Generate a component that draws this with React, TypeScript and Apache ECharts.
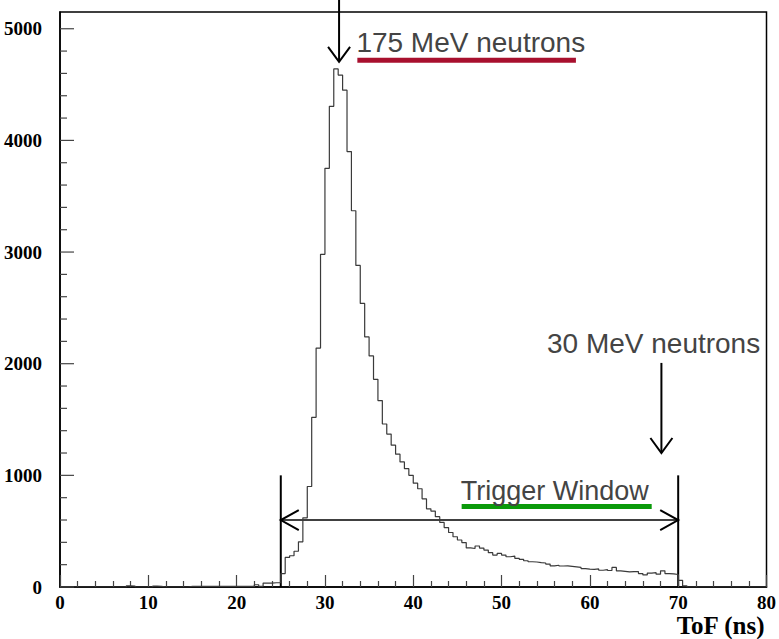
import React, { useEffect, useRef } from 'react';
import * as echarts from 'echarts';

// Histogram: ToF bins of 0.5 ns from 0 to 80 ns (160 bins)
const binStart = 0;
const binWidth = 0.5;
const counts = [
  0, 0, 0, 0, 0, 0, 0, 0, 0, 0,
  0, 0, 0, 0, 0, 10, 8, 0, 0, 0,
  0, 8, 5, 0, 0, 0, 0, 0, 0, 5,
  5, 5, 5, 5, 5, 5, 5, 5, 5, 5,
  5, 5, 5, 5, 20, 6, 35, 35, 38, 38,
  120, 265, 280, 320, 405, 620, 900, 1520, 2140, 2980,
  3750, 4305, 4640, 4585, 4450, 3900, 3370, 2880, 2540, 2240,
  2070, 1860, 1670, 1460, 1370, 1270, 1190, 1120, 1060, 1000,
  930, 880, 790, 700, 680, 630, 578, 532, 488, 450,
  421, 398, 350, 345, 367, 349, 331, 307, 286, 301,
  286, 271, 277, 257, 248, 235, 226, 224, 218, 215,
  205, 190, 195, 188, 190, 185, 180, 175, 165, 160,
  158, 162, 150, 155, 148, 175, 145, 140, 135, 137,
  138, 120, 108, 125, 128, 115, 145, 120, 118, 112,
  60, 10, 0, 0, 0, 0, 0, 0, 0, 0,
  0, 0, 0, 0, 0, 0, 0, 0, 0, 0,
];

const xMin = 0;
const xMax = 80;
const yMin = 0;
const yMax = 5150;
const yMajorTicks = [0, 1000, 2000, 3000, 4000, 5000];
const yMinorTicks = [
  200, 400, 600, 800, 1200, 1400, 1600, 1800, 2200, 2400, 2600, 2800,
  3200, 3400, 3600, 3800, 4200, 4400, 4600, 4800,
];

// Annotations (data coordinates: ToF ns, counts)
const triggerWindow = [25, 70];
const triggerTop = 1000;
const triggerArrowLevel = 600;
const arrow175 = { t: 31.6, from: 5260, to: 4704 };
const arrow30 = { t: 68.1, from: 2007, to: 1200 };
const label175 = { text: '175 MeV neutrons', t: 33.56, v: 4879 };
const bar175 = { t0: 33.67, t1: 58.42, v: 4718 };
const label30 = { text: '30 MeV neutrons', t: 55.14, v: 2177 };
const labelTrig = { text: 'Trigger Window', t: 45.37, v: 856 };
const barTrig = { t0: 45.48, t1: 67.0, v: 721 };

export default function App() {
  const ref = useRef<HTMLDivElement>(null);

  useEffect(() => {
    if (!ref.current) return;
    const chart = echarts.init(ref.current, undefined, { renderer: 'svg' });

    const histData: number[][] = counts.map((c, i) => [binStart + i * binWidth, c]);
    histData.push([xMax, 0]);

    const tickData = [
      ...yMajorTicks.map((v) => [0, v, 1]),
      ...yMinorTicks.map((v) => [0, v, 0]),
    ];

    const labelFont = { fontFamily: 'Liberation Serif', fontWeight: 'bold' as const, fontSize: 19, color: '#000' };

    chart.setOption({
      animation: false,
      grid: {
        left: 60,
        right: 11,
        top: 12,
        bottom: 52,
        show: true,
        borderColor: '#000',
        borderWidth: 1.5,
        backgroundColor: 'transparent',
      },
      xAxis: {
        type: 'value',
        min: xMin,
        max: xMax,
        interval: 10,
        axisLine: { show: true, lineStyle: { color: '#000', width: 1.5 } },
        axisTick: { show: true, inside: true, length: 12, lineStyle: { color: '#444', width: 1.2 } },
        minorTick: { show: true, splitNumber: 5, length: 6, lineStyle: { color: '#444', width: 1.2 } },
        splitLine: { show: false },
        axisLabel: { ...labelFont, margin: 6 },
      },
      yAxis: {
        type: 'value',
        min: yMin,
        max: yMax,
        interval: 1000,
        axisLine: { show: true, lineStyle: { color: '#000', width: 1.5 } },
        axisTick: { show: false },
        minorTick: { show: false },
        splitLine: { show: false },
        axisLabel: {
          ...labelFont,
          margin: 18,
          showMaxLabel: false,
          formatter: (v: number) => (v % 1000 === 0 ? String(v) : ''),
        },
      },
      series: [
        {
          type: 'line',
          step: 'end',
          data: histData,
          symbol: 'none',
          lineStyle: { color: '#3a3a3a', width: 1.2 },
          z: 3,
        },
        {
          type: 'custom',
          coordinateSystem: 'cartesian2d',
          data: tickData,
          silent: true,
          clip: false,
          z: 4,
          renderItem: (_params: any, api: any) => {
            const p = api.coord([api.value(0), api.value(1)]);
            const len = api.value(2) ? 14 : 7;
            return {
              type: 'line',
              shape: { x1: p[0], y1: p[1], x2: p[0] + len, y2: p[1] },
              style: { stroke: '#444', lineWidth: 1.2 },
            };
          },
        },
      ],
    });

    const px = (t: number, v: number) => chart.convertToPixel({ gridIndex: 0 }, [t, v]) as number[];
    const black = '#000';
    const textColor = '#444';

    const downArrow = (a: { t: number; from: number; to: number }) => {
      const top = px(a.t, a.from);
      const tip = px(a.t, a.to);
      return [
        { type: 'line', shape: { x1: top[0], y1: top[1], x2: tip[0], y2: tip[1] }, style: { stroke: black, lineWidth: 2 } },
        {
          type: 'polyline',
          shape: { points: [[tip[0] - 11, tip[1] - 15], [tip[0], tip[1]], [tip[0] + 11, tip[1] - 15]] },
          style: { stroke: black, lineWidth: 2, fill: null },
        },
      ];
    };

    const tl = px(triggerWindow[0], triggerTop);
    const tl0 = px(triggerWindow[0], 0);
    const tr = px(triggerWindow[1], triggerTop);
    const tr0 = px(triggerWindow[1], 0);
    const al = px(triggerWindow[0], triggerArrowLevel);
    const ar = px(triggerWindow[1], triggerArrowLevel);

    const l175 = px(label175.t, label175.v);
    const b175a = px(bar175.t0, bar175.v);
    const b175b = px(bar175.t1, bar175.v);
    const l30 = px(label30.t, label30.v);
    const lTr = px(labelTrig.t, labelTrig.v);
    const bTra = px(barTrig.t0, barTrig.v);
    const bTrb = px(barTrig.t1, barTrig.v);
    const axisEnd = px(xMax, 0);

    const graphic: any[] = [
      ...downArrow(arrow175),
      ...downArrow(arrow30),
      { type: 'line', shape: { x1: tl[0], y1: tl[1], x2: tl0[0], y2: tl0[1] }, style: { stroke: black, lineWidth: 2 } },
      { type: 'line', shape: { x1: tr[0], y1: tr[1], x2: tr0[0], y2: tr0[1] }, style: { stroke: black, lineWidth: 2 } },
      { type: 'line', shape: { x1: al[0], y1: al[1], x2: ar[0], y2: ar[1] }, style: { stroke: black, lineWidth: 1.6 } },
      {
        type: 'polyline',
        shape: { points: [[al[0] + 18, al[1] - 10], [al[0], al[1]], [al[0] + 18, al[1] + 10]] },
        style: { stroke: black, lineWidth: 2, fill: null },
      },
      {
        type: 'polyline',
        shape: { points: [[ar[0] - 18, ar[1] - 10], [ar[0], ar[1]], [ar[0] - 18, ar[1] + 10]] },
        style: { stroke: black, lineWidth: 2, fill: null },
      },
      {
        type: 'rect',
        shape: { x: b175a[0], y: b175a[1] - 2.5, width: b175b[0] - b175a[0], height: 5 },
        style: { fill: '#a8102e' },
      },
      {
        type: 'rect',
        shape: { x: bTra[0], y: bTra[1] - 2.5, width: bTrb[0] - bTra[0], height: 5 },
        style: { fill: '#0a9a0a' },
      },
      {
        type: 'text',
        x: l175[0],
        y: l175[1],
        style: { text: label175.text, font: '28px "Liberation Sans"', fill: textColor, textAlign: 'left', textVerticalAlign: 'middle' },
      },
      {
        type: 'text',
        x: l30[0],
        y: l30[1],
        style: { text: label30.text, font: '28px "Liberation Sans"', fill: textColor, textAlign: 'left', textVerticalAlign: 'middle' },
      },
      {
        type: 'text',
        x: lTr[0],
        y: lTr[1],
        style: { text: labelTrig.text, font: '27px "Liberation Sans"', fill: textColor, textAlign: 'left', textVerticalAlign: 'middle' },
      },
      {
        type: 'text',
        x: axisEnd[0] - 2,
        y: axisEnd[1] + 38,
        style: {
          text: 'ToF (ns)',
          font: 'bold 25px "Liberation Serif"',
          fill: '#000',
          textAlign: 'right',
          textVerticalAlign: 'middle',
        },
      },
    ];

    chart.setOption({ graphic });

    return () => chart.dispose();
  }, []);

  return (
    <div
      ref={ref}
      style={{ position: 'absolute', left: 0, top: 0, width: 779, height: 639, background: '#fff' }}
    />
  );
}
